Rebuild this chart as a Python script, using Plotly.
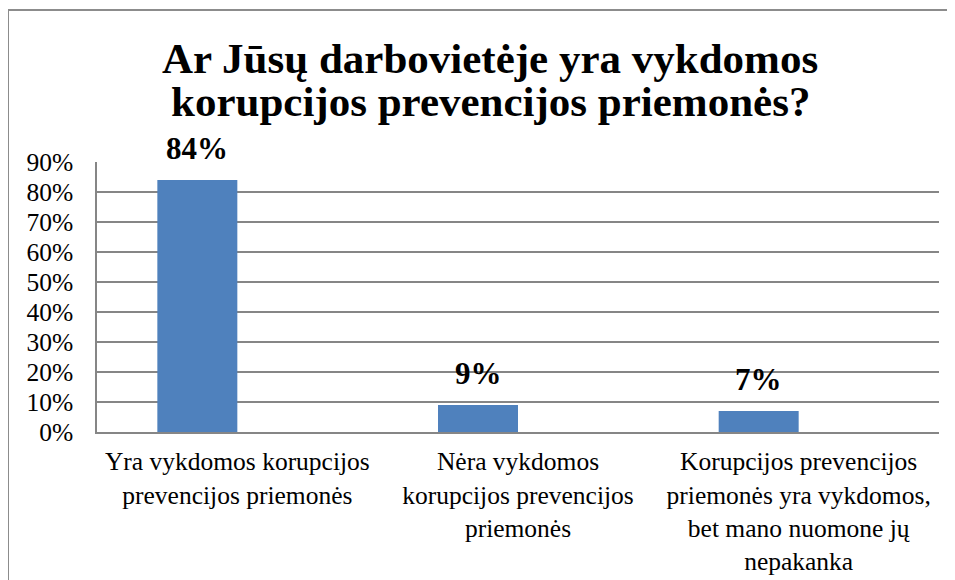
import plotly.graph_objects as go

categories = [
    "Yra vykdomos korupcijos<br>prevencijos priemonės",
    "Nėra vykdomos<br>korupcijos prevencijos<br>priemonės",
    "Korupcijos prevencijos<br>priemonės yra vykdomos,<br>bet mano nuomone jų<br>nepakanka",
]
values = [0.84, 0.09, 0.07]
value_labels = ["84%", "9%", "7%"]
title_lines = ["Ar Jūsų darbovietėje yra vykdomos", "korupcijos prevencijos priemonės?"]
tick_vals = [0, 0.1, 0.2, 0.3, 0.4, 0.5, 0.6, 0.7, 0.8, 0.9]
tick_text = ["0%", "10%", "20%", "30%", "40%", "50%", "60%", "70%", "80%", "90%"]

FONT = "Times New Roman"
BAR_W = 0.285

# page has an 8px body margin: work in page coords, convert to figure coords
OFF = 8
FW, FH = 955 - OFF, 580 - OFF
L, R, T, B = 97 - OFF, 939 - OFF, 162 - OFF, 432 - OFF
W, H = R - L, B - T

def px(x):
    return (x - OFF - L) / W
def py(y):
    return (B - (y - OFF)) / H

fig = go.Figure()
fig.add_trace(go.Bar(
    x=list(range(len(categories))),
    y=values,
    width=[BAR_W] * len(values),
    offset=[-BAR_W] * len(values),
    marker=dict(color="#4F81BD", line=dict(width=0)),
    hoverinfo="skip",
))

for i, (v, lab) in enumerate(zip(values, value_labels)):
    fig.add_annotation(
        x=i, y=v, xref="x", yref="y",
        text="<b>" + lab + "</b>",
        showarrow=False,
        xanchor="center", yanchor="bottom",
        xshift=-40, yshift=12,
        font=dict(family=FONT, size=31, color="#000000"),
    )

# title, one annotation per line (tighter line spacing than <br>)
TITLE_SIZE = 43
for line, ycen in zip(title_lines, [58, 101]):
    fig.add_annotation(
        x=px(490), y=py(ycen), xref="paper", yref="paper",
        text="<b>" + line + "</b>", showarrow=False,
        xanchor="center", yanchor="middle", borderpad=0,
        font=dict(family=FONT, size=TITLE_SIZE, color="#000000"),
    )

fig.add_shape(type="line", xref="paper", yref="paper",
              x0=px(8), x1=px(8), y0=py(10), y1=py(590),
              line=dict(color="#8C8C8C", width=2))
fig.add_shape(type="line", xref="paper", yref="paper",
              x0=px(8), x1=px(970), y0=py(10), y1=py(10),
              line=dict(color="#8C8C8C", width=2))

fig.update_layout(
    width=FW, height=FH,
    paper_bgcolor="white", plot_bgcolor="white",
    margin=dict(l=L, r=FW - R, t=T, b=FH - B, autoexpand=False),
    showlegend=False,
    font=dict(family=FONT, color="#000000"),
    xaxis=dict(
        tickmode="array", tickvals=list(range(len(categories))), ticktext=categories,
        range=[-0.5, len(categories) - 0.5],
        showgrid=False, zeroline=False, automargin=False,
        showline=True, linecolor="#868686", linewidth=1.5,
        ticks="", tickfont=dict(family=FONT, size=25.5, color="#000000"),
        ticklabelstandoff=6,
        fixedrange=True,
    ),
    yaxis=dict(
        range=[0, 0.9], tickmode="array", tickvals=tick_vals, ticktext=tick_text,
        showgrid=True, gridcolor="#868686", gridwidth=1.5,
        zeroline=False, automargin=False,
        showline=True, linecolor="#868686", linewidth=1.5,
        ticks="", tickfont=dict(family=FONT, size=25.5, color="#000000"),
        ticklabelstandoff=17,
        fixedrange=True,
    ),
)

fig.write_html("out.html")
